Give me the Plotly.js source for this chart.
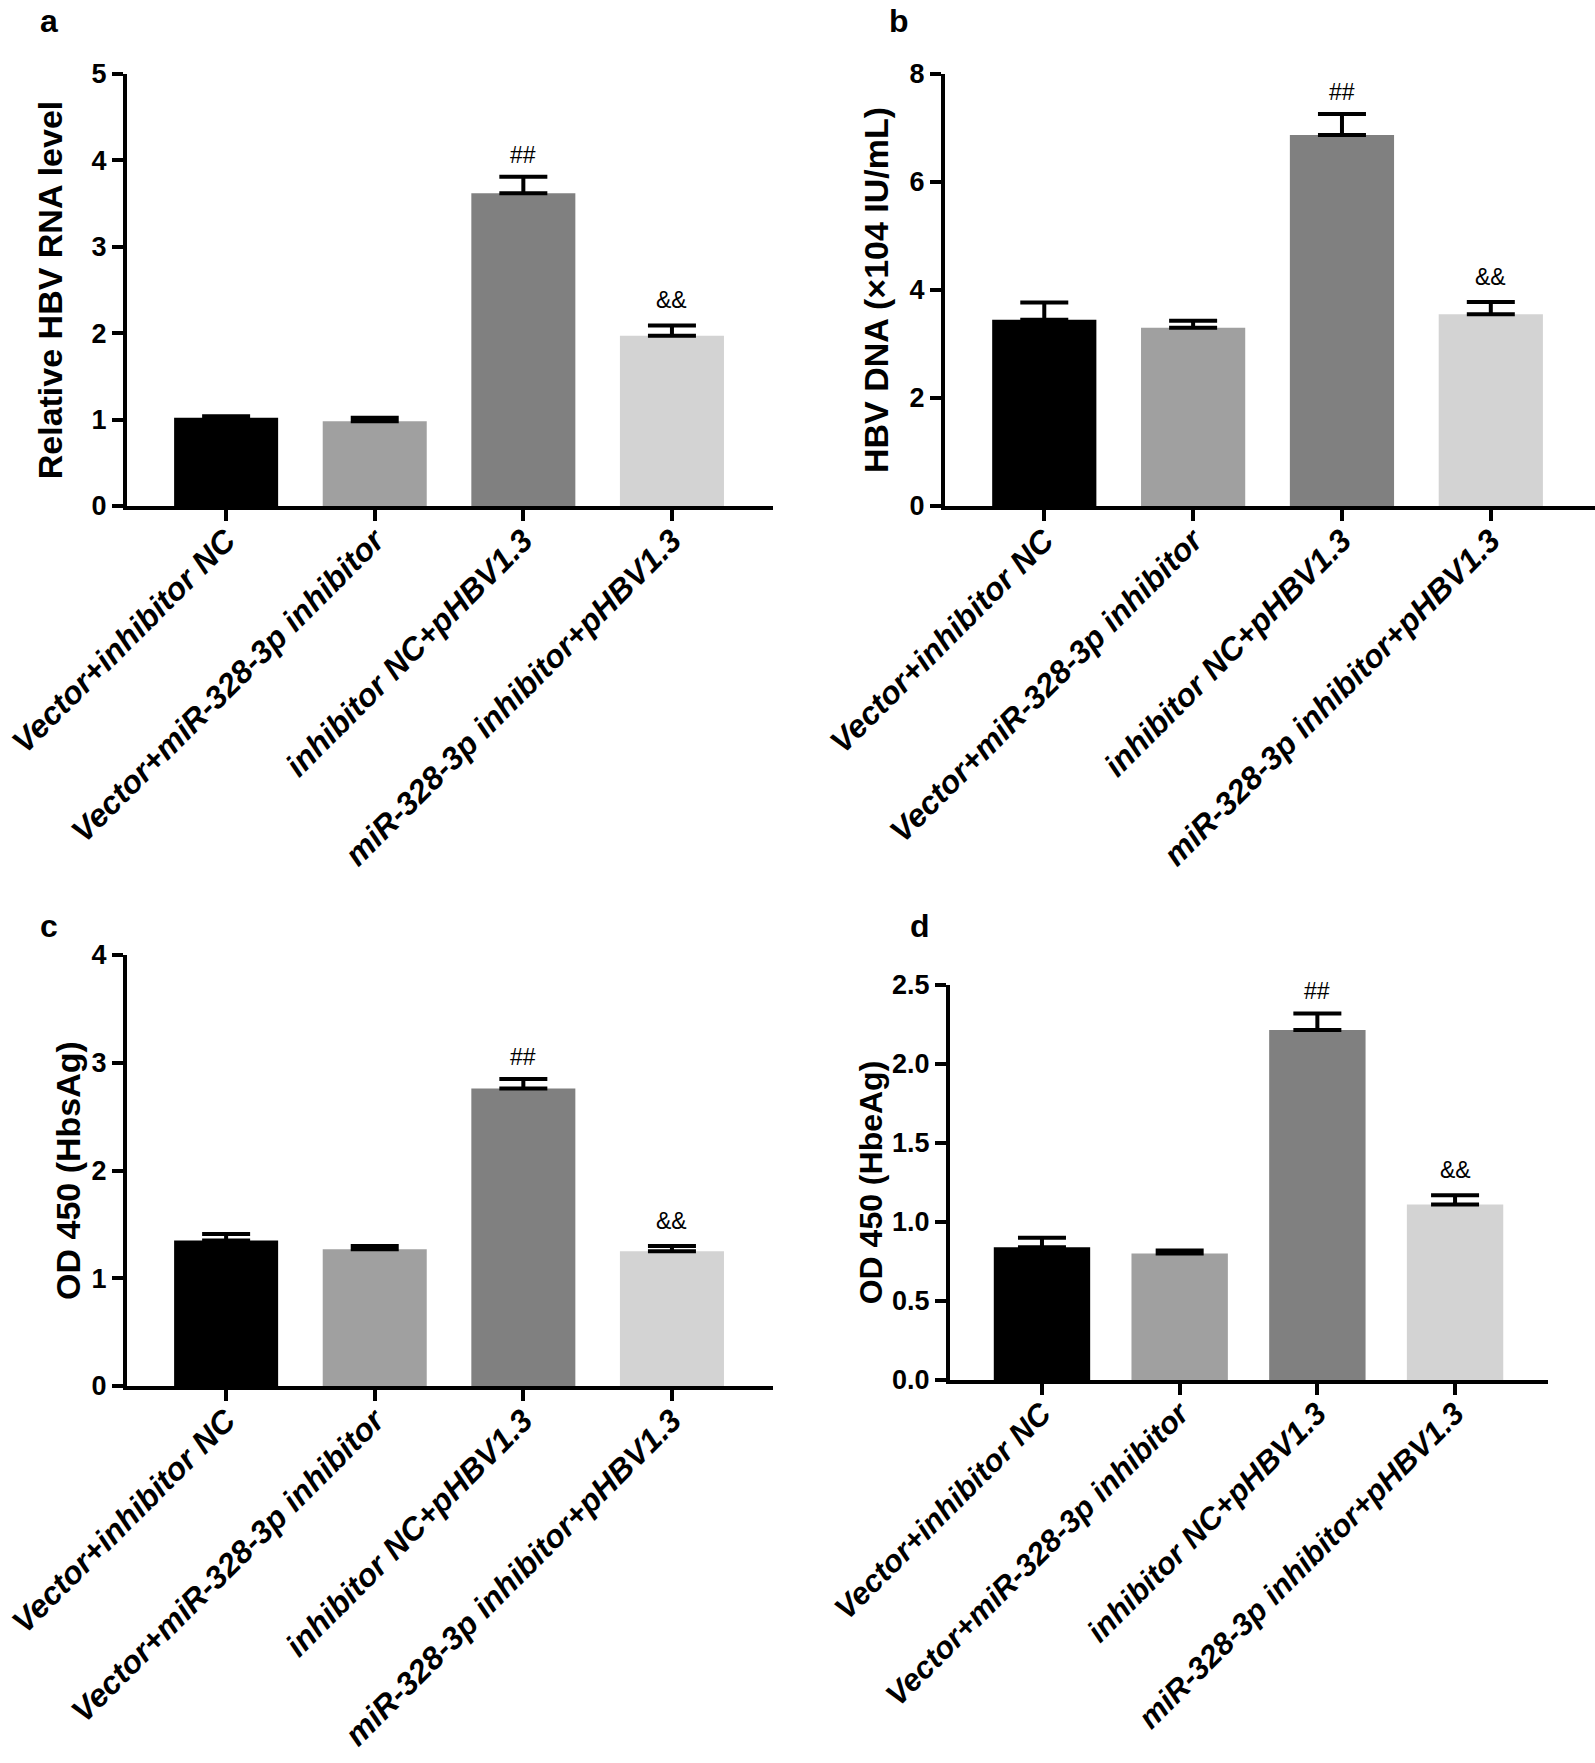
<!DOCTYPE html>
<html>
<head>
<meta charset="utf-8">
<script src="https://cdn.plot.ly/plotly-3.0.1.min.js"></script>
<style>
  html, body { margin: 0; padding: 0; background: #ffffff; }
  #chart { width: 1595px; height: 1763px; }
</style>
</head>
<body>
<div id="chart"></div>
<script>
// ---- data ----
const categories = [
  "Vector+inhibitor NC",
  "Vector+miR-328-3p inhibitor",
  "inhibitor NC+pHBV1.3",
  "miR-328-3p inhibitor+pHBV1.3"
];
const barColors = ["#000000", "#a0a0a0", "#808080", "#d3d3d3"];
const sigMarks = ["", "", "##", "&&"];

// a: Relative HBV RNA level
const rnaMean = [1.02, 0.98, 3.62, 1.97];
const rnaErr  = [0.02, 0.04, 0.19, 0.12];
// b: HBV DNA (x10^4 IU/mL)
const dnaMean = [3.45, 3.30, 6.87, 3.55];
const dnaErr  = [0.32, 0.13, 0.39, 0.23];
// c: OD 450 (HbsAg)
const hbsMean = [1.35, 1.27, 2.76, 1.25];
const hbsErr  = [0.06, 0.03, 0.09, 0.05];
// d: OD 450 (HbeAg)
const hbeMean = [0.84, 0.80, 2.215, 1.11];
const hbeErr  = [0.06, 0.02, 0.105, 0.06];

const panelLetters = ["a", "b", "c", "d"];
const yTitles = ["Relative HBV RNA level", "HBV DNA (\u00d7104 IU/mL)", "OD 450 (HbsAg)", "OD 450 (HbeAg)"];
const yMax = [5, 8, 4, 2.5];
const yDtick = [1, 2, 1, 0.5];
const yDecimals = [0, 0, 0, 1];

// ---- layout geometry (pixels) ----
const W = 1595, H = 1763;
const panels = [
  { mean: rnaMean, err: rnaErr, xpx: [127, 773], ypx: [506, 74], xr: [-0.667, 3.68], titleSize: 34, standoff: 20, labelSize: 32, letter: [49, 1] },
  { mean: dnaMean, err: dnaErr, xpx: [945, 1595], ypx: [506, 74], xr: [-0.667, 3.70], titleSize: 34, standoff: 12, labelSize: 32, letter: [899, 1] },
  { mean: hbsMean, err: hbsErr, xpx: [127, 773], ypx: [1386, 955], xr: [-0.667, 3.68], titleSize: 34, standoff: 2, labelSize: 32, letter: [49, 906] },
  { mean: hbeMean, err: hbeErr, xpx: [950, 1548], ypx: [1380, 985], xr: [-0.668, 3.675], titleSize: 32, standoff: 1, labelSize: 31, letter: [920, 906] }
];

const traces = [];
const layout = {
  width: W, height: H,
  margin: { l: 0, r: 0, t: 0, b: 0 },
  paper_bgcolor: "#ffffff",
  plot_bgcolor: "rgba(0,0,0,0)",
  showlegend: false,
  bargap: 0.3,
  annotations: [],
  shapes: []
};

const fontFam = "Liberation Sans, Arial, Helvetica, sans-serif";

panels.forEach((p, i) => {
  const n = i + 1;
  const xa = "x" + (n === 1 ? "" : n);
  const ya = "y" + (n === 1 ? "" : n);
  const xKey = "xaxis" + (n === 1 ? "" : n);
  const yKey = "yaxis" + (n === 1 ? "" : n);

  traces.push({
    type: "bar",
    x: categories,
    y: p.mean,
    xaxis: xa, yaxis: ya,
    marker: { color: barColors, line: { width: 0 } },
    error_y: {
      type: "data", symmetric: false,
      array: p.err, arrayminus: p.err.map(() => 0),
      color: "#000000", thickness: 4, width: 24, visible: true
    },
    hoverinfo: "skip"
  });

  const yVals = [];
  for (let v = 0; v <= yMax[i] + 1e-9; v += yDtick[i]) yVals.push(+v.toFixed(3));

  layout[xKey] = {
    domain: [p.xpx[0] / W, p.xpx[1] / W],
    anchor: ya,
    type: "category",
    range: p.xr,
    tickmode: "array",
    tickvals: categories,
    ticktext: categories.map(c => "<b><i>" + c + "</i></b>"),
    showline: true, linecolor: "#000000", linewidth: 4,
    ticks: "outside", ticklen: 11, tickwidth: 4, tickcolor: "#000000",
    tickangle: -45,
    ticklabelstandoff: -12,
    tickfont: { family: fontFam, size: p.labelSize, color: "#000000" },
    showgrid: false, zeroline: false, automargin: false, fixedrange: true
  };
  layout[yKey] = {
    domain: [1 - p.ypx[0] / H, 1 - p.ypx[1] / H],
    anchor: xa,
    range: [0, yMax[i]],
    tickmode: "array",
    tickvals: yVals,
    ticktext: yVals.map(v => "<b>" + v.toFixed(yDecimals[i]) + "</b>"),
    showline: true, linecolor: "#000000", linewidth: 4,
    ticks: "outside", ticklen: 11, tickwidth: 4, tickcolor: "#000000",
    tickfont: { family: fontFam, size: 27, color: "#000000" },
    title: { text: "<b>" + yTitles[i] + "</b>", font: { family: fontFam, size: p.titleSize, color: "#000000" }, standoff: p.standoff },
    showgrid: false, zeroline: false, automargin: false, fixedrange: true
  };

  // small overhang of the x axis line left of the y axis (GraphPad style)
  layout.shapes.push({
    type: "line", xref: "paper", yref: ya,
    x0: (p.xpx[0] - 11) / W, x1: p.xpx[0] / W, y0: 0, y1: 0,
    line: { color: "#000000", width: 4 }
  });

  // significance marks above error bars
  categories.forEach((c, k) => {
    if (sigMarks[k]) {
      layout.annotations.push({
        xref: xa, yref: ya, x: c, y: p.mean[k] + p.err[k],
        text: sigMarks[k], showarrow: false,
        yanchor: "middle", yshift: sigMarks[k] === "##" ? 22 : 25,
        font: { family: fontFam, size: 23, color: "#000000" }
      });
    }
  });

  // panel letter
  layout.annotations.push({
    xref: "paper", yref: "paper",
    x: p.letter[0] / W, y: 1 - p.letter[1] / H,
    text: "<b>" + panelLetters[i] + "</b>", showarrow: false,
    xanchor: "center", yanchor: "top",
    font: { family: fontFam, size: 32, color: "#000000" }
  });
});

Plotly.newPlot("chart", traces, layout, { staticPlot: true, displayModeBar: false });
</script>
</body>
</html>
